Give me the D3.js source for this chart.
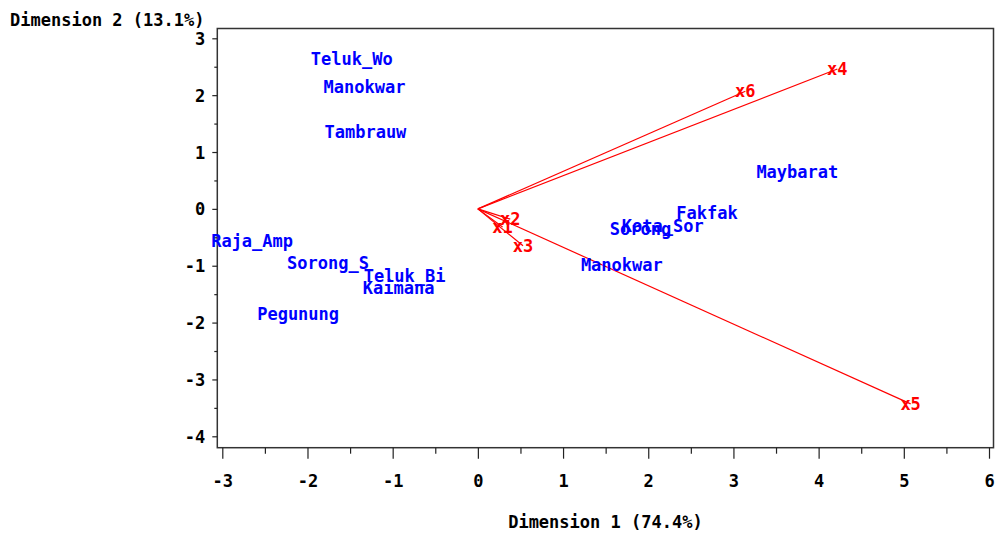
<!DOCTYPE html>
<html>
<head>
<meta charset="utf-8">
<script src="https://cdn.jsdelivr.net/npm/d3@7"></script>
<style>
  html, body { margin: 0; padding: 0; background: #fff; }
  svg { display: block; }
  text { font-family: "DejaVu Sans Mono", "Liberation Mono", monospace; font-weight: bold; font-size: 17px; }
</style>
</head>
<body>
<svg id="chart" width="995" height="533"></svg>
<script>
// Observation scores on the first two dimensions
const obsNames = ["Teluk_Wo", "Manokwar", "Tambrauw", "Maybarat", "Fakfak", "Kota_Sor",
                  "Sorong", "Manokwar", "Raja_Amp", "Sorong_S", "Teluk_Bi", "Kaimana", "Pegunung"];
const obsDim1 = [-1.48, -1.33, -1.32, 3.75, 2.69, 2.17, 1.91, 1.69, -2.65, -1.76, -0.86, -0.93, -2.11];
const obsDim2 = [2.64, 2.14, 1.35, 0.65, -0.07, -0.30, -0.35, -0.98, -0.56, -0.95, -1.18, -1.39, -1.85];

// Variable loadings (drawn as vectors from the origin)
const varNames = ["x1", "x2", "x3", "x4", "x5", "x6"];
const varDim1 = [0.29, 0.38, 0.53, 4.22, 5.08, 3.14];
const varDim2 = [-0.32, -0.18, -0.65, 2.46, -3.43, 2.07];

// Axis ticks
const xTicks = [-3, -2, -1, 0, 1, 2, 3, 4, 5, 6];
const xMinor = [-2.5, -1.5, -0.5, 0.5, 1.5, 2.5, 3.5, 4.5, 5.5];
const yTicks = [-4, -3, -2, -1, 0, 1, 2, 3];
const yMinor = [-3.5, -2.5, -1.5, -0.5, 0.5, 1.5, 2.5];

const xTitle = "Dimension 1 (74.4%)";
const yTitle = "Dimension 2 (13.1%)";

const svg = d3.select("#chart");

const x = d3.scaleLinear().domain([-3, 6]).range([222.3, 989]);
const y = d3.scaleLinear().domain([-4, 3]).range([436.3, 38.3]);

// Plot frame
const frame = { left: 217.3, right: 993.5, top: 28.5, bottom: 447.7 };

svg.append("rect")
  .attr("x", frame.left).attr("y", frame.top)
  .attr("width", frame.right - frame.left)
  .attr("height", frame.bottom - frame.top)
  .attr("fill", "none")
  .attr("stroke", "#333")
  .attr("stroke-width", 1.5);

// Plain hyphen for negative tick labels
const tickFmt = d => String(d);

// X axis: major and minor ticks below the frame
const gxMinor = svg.append("g").attr("transform", `translate(0,${frame.bottom})`)
  .call(d3.axisBottom(x).tickValues(xMinor).tickSize(6).tickFormat(""));
const gx = svg.append("g").attr("transform", `translate(0,${frame.bottom})`)
  .call(d3.axisBottom(x).tickValues(xTicks).tickSize(11).tickPadding(16).tickFormat(tickFmt));

// Y axis: ticks to the left of the frame
const gyMinor = svg.append("g").attr("transform", `translate(${frame.left},0)`)
  .call(d3.axisLeft(y).tickValues(yMinor).tickSize(3).tickFormat(""));
const gy = svg.append("g").attr("transform", `translate(${frame.left},0)`)
  .call(d3.axisLeft(y).tickValues(yTicks).tickSize(5).tickPadding(7).tickFormat(tickFmt));

[gxMinor, gx, gyMinor, gy].forEach(g => {
  g.select(".domain").remove();
  g.selectAll(".tick line").attr("stroke", "#222").attr("stroke-width", 1.2);
  g.selectAll("text")
    .attr("fill", "#000")
    .style("font-family", "\"DejaVu Sans Mono\", monospace")
    .style("font-weight", "bold")
    .style("font-size", "17px");
});
gx.selectAll(".tick text").attr("dy", "0.71em");
gy.selectAll(".tick text").attr("dy", "0.36em");

// Axis titles
svg.append("text")
  .attr("x", (frame.left + frame.right) / 2)
  .attr("y", 522)
  .attr("text-anchor", "middle")
  .attr("dominant-baseline", "central")
  .text(xTitle);

svg.append("text")
  .attr("x", 10)
  .attr("y", 20)
  .attr("text-anchor", "start")
  .attr("dominant-baseline", "central")
  .text(yTitle);

// Variable vectors
const vars = varNames.map((n, i) => ({ name: n, d1: varDim1[i], d2: varDim2[i] }));

svg.append("g").selectAll("line")
  .data(vars).join("line")
  .attr("x1", x(0)).attr("y1", y(0))
  .attr("x2", d => x(d.d1)).attr("y2", d => y(d.d2))
  .attr("stroke", "#ff0000")
  .attr("stroke-width", 1.2);

svg.append("g").selectAll("text")
  .data(vars).join("text")
  .attr("x", d => x(d.d1)).attr("y", d => y(d.d2))
  .attr("text-anchor", "middle")
  .attr("dominant-baseline", "central")
  .attr("fill", "#ff0000")
  .text(d => d.name);

// Observation labels
const obs = obsNames.map((n, i) => ({ name: n, d1: obsDim1[i], d2: obsDim2[i] }));

svg.append("g").selectAll("text")
  .data(obs).join("text")
  .attr("x", d => x(d.d1)).attr("y", d => y(d.d2))
  .attr("text-anchor", "middle")
  .attr("dominant-baseline", "central")
  .attr("fill", "#0000ff")
  .text(d => d.name);
</script>
</body>
</html>
